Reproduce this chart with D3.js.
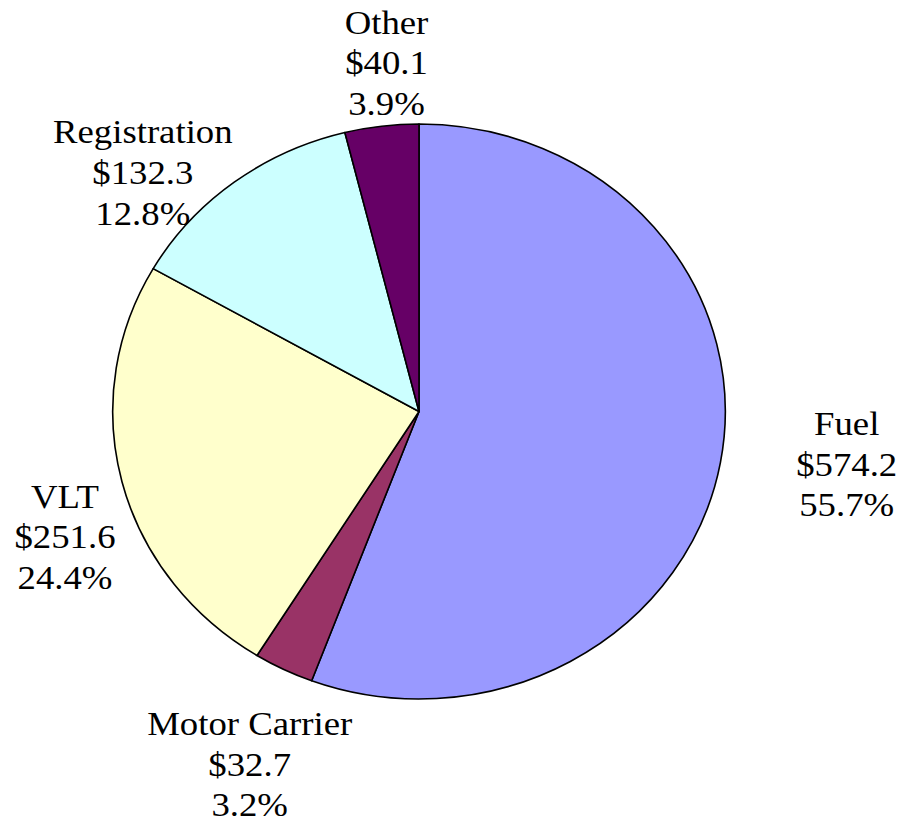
<!DOCTYPE html>
<html>
<head>
<meta charset="utf-8">
<script src="https://cdn.jsdelivr.net/npm/d3@7"></script>
<style>
  body { margin: 0; background: #fff; }
  text { font-family: "Liberation Serif", "Times New Roman", serif; }
</style>
</head>
<body>
<svg width="900" height="823"></svg>
<script>
const categories = ["Fuel", "Motor Carrier", "VLT", "Registration", "Other"];
const values = [574.2, 32.7, 251.6, 132.3, 40.1];
const percents = ["55.7%", "3.2%", "24.4%", "12.8%", "3.9%"];
const colors = ["#9999FF", "#993366", "#FFFFCC", "#CCFFFF", "#660066"];

// label layout (first baseline, centred), kept apart from the data
const labelPos = [[846.7, 435], [249.7, 735], [65, 507.7], [142.8, 143.3], [386.5, 33.7]];

const svg = d3.select("svg");
const cx = 419;
const cy = 411.5;
const ry = 287.5;
const rx = 306.3;
const sx = rx / ry;
const lineGap = 40.7;

const pie = d3.pie().sort(null).value(d => d);
const arc = d3.arc().innerRadius(0).outerRadius(ry);

const g = svg
  .append("g")
    .attr("transform", `translate(${cx}, ${cy}) scale(${sx}, 1)`);

g.selectAll("path")
  .data(pie(values))
  .join("path")
    .attr("d", arc)
    .attr("fill", (d, i) => colors[i])
    .attr("stroke", "#000")
    .attr("stroke-width", 1.6)
    .attr("vector-effect", "non-scaling-stroke")
    .attr("stroke-linejoin", "round");

const fmt = d3.format(".1f");

const labels = svg
  .append("g")
  .selectAll("text")
  .data(categories)
  .join("text")
    .attr("transform", (d, i) => `translate(${labelPos[i][0]}, ${labelPos[i][1]}) scale(${sx}, 1)`)
    .attr("text-anchor", "middle")
    .attr("font-size", 34.5)
    .attr("fill", "#000");

labels.each(function (d, i) {
  const t = d3.select(this);
  [d, "$" + fmt(values[i]), percents[i]].forEach((line, k) => {
    t.append("tspan")
      .attr("x", 0)
      .attr("y", k * lineGap)
      .text(line);
  });
});
</script>
</body>
</html>
